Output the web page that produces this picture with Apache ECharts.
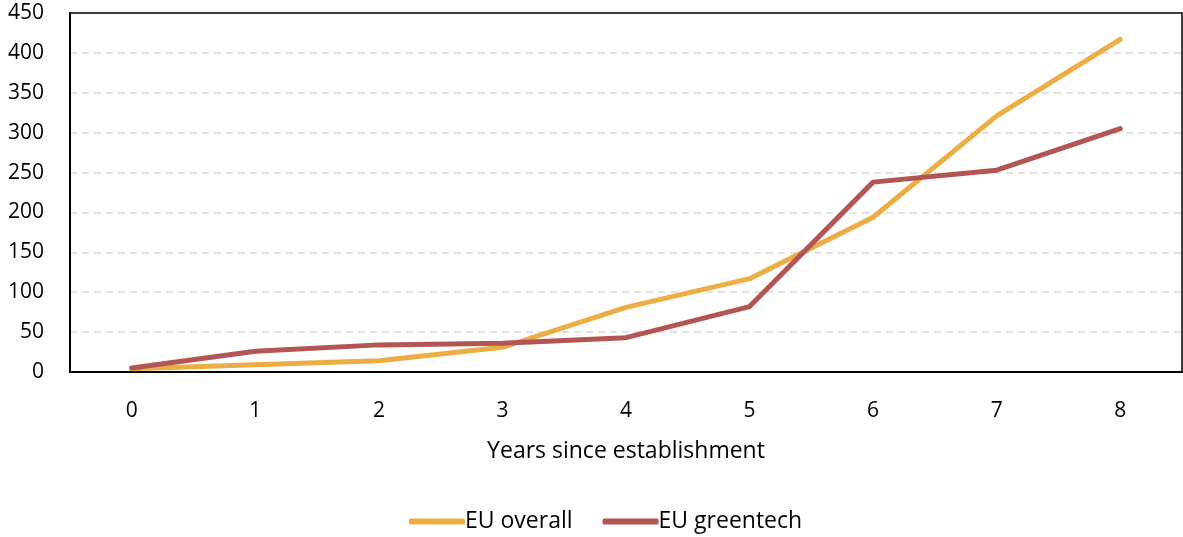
<!DOCTYPE html>
<html>
<head>
<meta charset="utf-8">
<script src="https://cdn.jsdelivr.net/npm/echarts@6/dist/echarts.min.js"></script>
<style>
  html, body { margin: 0; padding: 0; background: #fff; }
  #chart { width: 1183px; height: 537px; }
</style>
</head>
<body>
<div id="chart"></div>
<script>
// Years since establishment
const years = ['0', '1', '2', '3', '4', '5', '6', '7', '8'];
// Series values
const euOverall = [4, 9, 14, 31, 81, 117, 194, 321, 417];
const euGreentech = [5, 26, 34, 36, 43, 82, 238, 253, 305];
const seriesNames = ['EU overall', 'EU greentech'];
const axisTitle = 'Years since establishment';

const FONT = 'Open Sans';
const FS = 21;      // tick labels
const FS_TEXT = 23; // axis title and legend
const orange = '#EDAD45';
const red = '#B25553';

const chart = echarts.init(document.getElementById('chart'), null, { renderer: 'canvas' });
chart.setOption({
  animation: false,
  backgroundColor: '#fff',
  grid: {
    left: 70, right: 1, top: 13, bottom: 165,
    show: true, borderColor: '#000', borderWidth: 1.5, backgroundColor: 'transparent'
  },
  xAxis: {
    type: 'category',
    data: years,
    boundaryGap: true,
    name: axisTitle,
    nameLocation: 'middle',
    nameGap: 68,
    nameTextStyle: { fontFamily: FONT, fontSize: FS_TEXT, color: '#000' },
    axisLine: { lineStyle: { color: '#000', width: 2 } },
    axisTick: { show: false },
    axisLabel: { fontFamily: FONT, fontSize: FS, color: '#000', margin: 29 }
  },
  yAxis: {
    type: 'value',
    min: 0, max: 450, interval: 50,
    axisLine: { show: true, lineStyle: { color: '#000', width: 2 } },
    axisTick: { show: false },
    axisLabel: { fontFamily: FONT, fontSize: FS, color: '#000', margin: 26 },
    splitLine: { showMaxLine: false, lineStyle: { color: '#d9d9d9', width: 1.5, type: [7, 5] } }
  },
  legend: {
    bottom: 4,
    left: 409,
    padding: 0,
    itemWidth: 56,
    itemHeight: 6,
    itemGap: 30,
    icon: 'roundRect',
    textStyle: { fontFamily: FONT, fontSize: FS_TEXT, color: '#000', padding: [0, 0, 0, -5] },
    data: seriesNames
  },
  series: [
    {
      name: seriesNames[0], type: 'line', data: euOverall,
      symbol: 'none', color: orange,
      lineStyle: { color: orange, width: 5, cap: 'round', join: 'round' }
    },
    {
      name: seriesNames[1], type: 'line', data: euGreentech,
      symbol: 'none', color: red,
      lineStyle: { color: red, width: 5, cap: 'round', join: 'round' }
    }
  ]
});
</script>
</body>
</html>
